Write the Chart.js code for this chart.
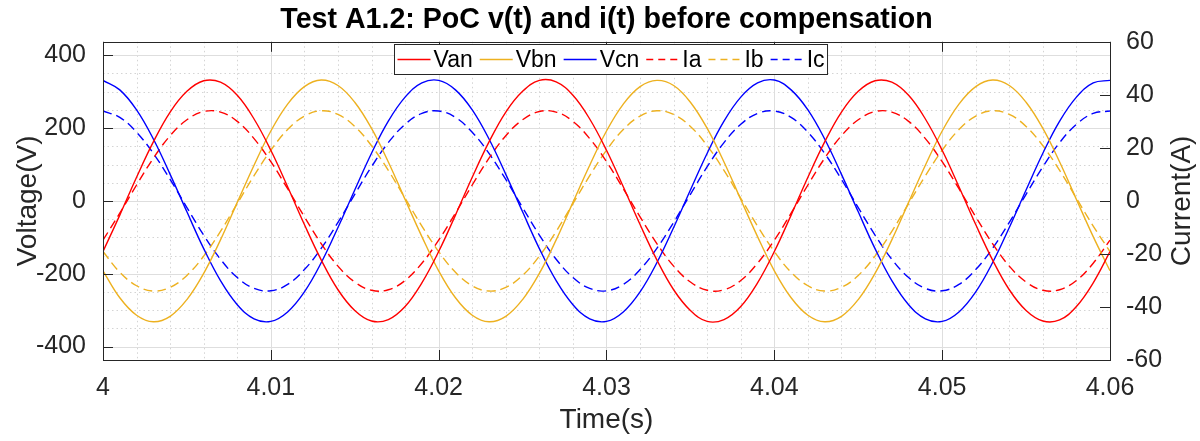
<!DOCTYPE html>
<html>
<head>
<meta charset="utf-8">
<script src="https://cdn.jsdelivr.net/npm/chart.js@4.4.0/dist/chart.umd.min.js"></script>
<style>
    html, body { margin: 0; padding: 0; background: #fff; }
    #wrap { width: 1200px; height: 441px; }
</style>
</head>
<body>
<div id="wrap"><canvas id="chart"></canvas></div>
<script>
// sample times (s), one reading every 1 ms
const time = [
    4.000, 4.001, 4.002, 4.003, 4.004, 4.005, 4.006, 4.007, 4.008, 4.009,
    4.010, 4.011, 4.012, 4.013, 4.014, 4.015, 4.016, 4.017, 4.018, 4.019,
    4.020, 4.021, 4.022, 4.023, 4.024, 4.025, 4.026, 4.027, 4.028, 4.029,
    4.030, 4.031, 4.032, 4.033, 4.034, 4.035, 4.036, 4.037, 4.038, 4.039,
    4.040, 4.041, 4.042, 4.043, 4.044, 4.045, 4.046, 4.047, 4.048, 4.049,
    4.050, 4.051, 4.052, 4.053, 4.054, 4.055, 4.056, 4.057, 4.058, 4.059,
    4.060
];

// phase voltages (V)
const van = [
    -139, -39, 65, 162, 244, 301, 330, 326, 290, 225,
    139, 39, -65, -162, -244, -301, -330, -326, -290, -225,
    -139, -39, 65, 162, 244, 301, 331, 327, 290, 225,
    139, 39, -65, -162, -244, -301, -331, -326, -290, -225,
    -139, -39, 65, 162, 244, 301, 330, 326, 290, 225,
    139, 39, -65, -162, -244, -301, -330, -327, -290, -225,
    -139
];
const vbn = [
    -192, -266, -314, -332, -317, -271, -199, -107, -4, 98,
    192, 266, 314, 332, 317, 271, 199, 107, 4, -98,
    -192, -266, -314, -332, -317, -271, -199, -107, -4, 98,
    192, 266, 314, 331, 317, 271, 199, 107, 4, -98,
    -192, -266, -314, -332, -317, -271, -199, -107, -4, 98,
    192, 266, 314, 332, 317, 271, 199, 107, 4, -98,
    -192
];
const vcn = [
    331, 305, 250, 170, 73, -30, -131, -219, -285, -324,
    -331, -305, -250, -170, -73, 30, 131, 219, 285, 324,
    331, 305, 250, 170, 73, -30, -131, -219, -285, -324,
    -331, -305, -250, -170, -73, 30, 131, 219, 285, 324,
    332, 305, 250, 170, 73, -30, -131, -219, -285, -324,
    -331, -305, -250, -170, -73, 30, 131, 219, 285, 324,
    331
];

// line currents (A)
const ia = [
    -14.8, -4.6, 6.0, 16.1, 24.6, 30.6, 33.7, 33.5, 30.0, 23.5,
    14.8, 4.6, -6.0, -16.1, -24.6, -30.6, -33.7, -33.5, -30.0, -23.5,
    -14.8, -4.6, 6.0, 16.1, 24.6, 30.6, 33.7, 33.5, 30.0, 23.5,
    14.8, 4.6, -6.0, -16.1, -24.6, -30.6, -33.7, -33.5, -30.0, -23.5,
    -14.8, -4.6, 6.0, 16.1, 24.6, 30.6, 33.7, 33.5, 30.0, 23.5,
    14.8, 4.6, -6.0, -16.1, -24.6, -30.6, -33.7, -33.5, -30.0, -23.5,
    -14.8
];
const ib = [
    -19.1, -26.9, -32.0, -34.0, -32.6, -28.1, -20.8, -11.5, -1.0, 9.5,
    19.1, 26.9, 32.0, 34.0, 32.6, 28.1, 20.8, 11.5, 1.0, -9.5,
    -19.1, -26.9, -32.0, -34.0, -32.6, -28.1, -20.8, -11.5, -1.0, 9.5,
    19.1, 26.9, 32.0, 34.0, 32.6, 28.1, 20.8, 11.5, 1.0, -9.5,
    -19.1, -26.9, -32.0, -34.0, -32.6, -28.1, -20.8, -11.5, -1.0, 9.5,
    19.1, 26.9, 32.0, 34.0, 32.6, 28.1, 20.8, 11.5, 1.0, -9.5,
    -19.1
];
const ic = [
    33.9, 31.5, 25.9, 17.9, 8.1, -2.5, -12.9, -22.0, -28.9, -33.0,
    -33.9, -31.5, -25.9, -17.9, -8.1, 2.5, 12.9, 22.0, 28.9, 33.0,
    33.9, 31.5, 25.9, 17.9, 8.1, -2.5, -12.9, -22.0, -28.9, -33.0,
    -33.9, -31.5, -25.9, -17.9, -8.1, 2.5, 12.9, 22.0, 28.9, 33.0,
    33.9, 31.5, 25.9, 17.9, 8.1, -2.5, -12.9, -22.0, -28.9, -33.0,
    -33.9, -31.5, -25.9, -17.9, -8.1, 2.5, 12.9, 22.0, 28.9, 33.0,
    33.9
];

const FONT = '"Liberation Sans", Arial, Helvetica, sans-serif';
const AXIS = "#262626";
const RED = "#ff0000";
const GOLD = "#edb120";
const BLUE = "#0000ff";

const points = (values) => time.map((t, i) => ({ x: t, y: values[i] }));
const onStep = (value, step) => {
    const q = value / step;
    return Math.abs(q - Math.round(q)) < 1e-6;
};

function lineSet(label, values, color, axis, dashed) {
    return {
        label: label,
        data: points(values),
        yAxisID: axis,
        borderColor: color,
        backgroundColor: color,
        borderWidth: 1.4,
        borderDash: dashed ? [9, 5] : [],
        pointRadius: 0,
        tension: 0.4,
        fill: false
    };
}

// MATLAB-like box: grid, inward ticks, legend, right label
const frame = {
    id: "frame",
    beforeDatasetsDraw(chart) {
        const { ctx, chartArea: a, scales } = chart;
        ctx.save();
        ctx.lineWidth = 1;
        // minor dotted grid
        ctx.strokeStyle = "#d4d4d4";
        ctx.setLineDash([1.5, 3]);
        scales.x.ticks.forEach((t) => {
            if (onStep(t.value, 0.01)) return;
            const px = Math.round(scales.x.getPixelForValue(t.value)) + 0.5;
            ctx.beginPath(); ctx.moveTo(px, a.top); ctx.lineTo(px, a.bottom); ctx.stroke();
        });
        scales.y.ticks.forEach((t) => {
            if (onStep(t.value, 200)) return;
            const py = Math.round(scales.y.getPixelForValue(t.value)) + 0.5;
            ctx.beginPath(); ctx.moveTo(a.left, py); ctx.lineTo(a.right, py); ctx.stroke();
        });
        // major solid grid
        ctx.setLineDash([]);
        ctx.strokeStyle = "#dedede";
        scales.x.ticks.forEach((t) => {
            if (!onStep(t.value, 0.01)) return;
            const px = Math.round(scales.x.getPixelForValue(t.value)) + 0.5;
            ctx.beginPath(); ctx.moveTo(px, a.top); ctx.lineTo(px, a.bottom); ctx.stroke();
        });
        scales.y.ticks.forEach((t) => {
            if (!onStep(t.value, 200)) return;
            const py = Math.round(scales.y.getPixelForValue(t.value)) + 0.5;
            ctx.beginPath(); ctx.moveTo(a.left, py); ctx.lineTo(a.right, py); ctx.stroke();
        });
        ctx.restore();
    },
    afterDatasetsDraw(chart) {
        const { ctx, chartArea: a, scales } = chart;
        ctx.save();
        ctx.lineWidth = 1;
        ctx.strokeStyle = AXIS;
        ctx.setLineDash([]);
        const tick = 10;
        scales.x.ticks.forEach((t) => {
            if (!onStep(t.value, 0.01)) return;
            const px = Math.round(scales.x.getPixelForValue(t.value)) + 0.5;
            ctx.beginPath();
            ctx.moveTo(px, a.bottom); ctx.lineTo(px, a.bottom - tick);
            ctx.moveTo(px, a.top); ctx.lineTo(px, a.top + tick);
            ctx.stroke();
        });
        scales.y.ticks.forEach((t) => {
            if (!onStep(t.value, 200)) return;
            const py = Math.round(scales.y.getPixelForValue(t.value)) + 0.5;
            ctx.beginPath(); ctx.moveTo(a.left, py); ctx.lineTo(a.left + tick, py); ctx.stroke();
        });
        scales.y1.ticks.forEach((t) => {
            const py = Math.round(scales.y1.getPixelForValue(t.value)) + 0.5;
            ctx.beginPath(); ctx.moveTo(a.right, py); ctx.lineTo(a.right - tick, py); ctx.stroke();
        });
        ctx.strokeRect(Math.round(a.left) + 0.5, Math.round(a.top) + 0.5,
            Math.round(a.right - a.left), Math.round(a.bottom - a.top));

        // legend inside the top of the axes
        ctx.font = `23px ${FONT}`;
        const sample = 33, textGap = 3, itemGap = 7, pad = 3, boxH = 30;
        const items = chart.data.datasets.map((ds) => ({ ds, w: ctx.measureText(ds.label).width }));
        const total = pad * 2 + items.reduce((s, it) => s + sample + textGap + it.w, 0) + itemGap * (items.length - 1);
        const bx = Math.round((a.left + a.right) / 2 - total / 2 + 4) + 0.5;
        const by = Math.round(a.top + 2) + 0.5;
        ctx.fillStyle = "#fff";
        ctx.fillRect(bx, by, total, boxH);
        ctx.strokeStyle = AXIS;
        ctx.strokeRect(bx, by, total, boxH);
        let x = bx + pad;
        const cy = by + boxH / 2;
        ctx.textBaseline = "middle";
        ctx.textAlign = "left";
        items.forEach((it) => {
            ctx.strokeStyle = it.ds.borderColor;
            ctx.lineWidth = 1.4;
            ctx.setLineDash(it.ds.borderDash.length ? [7, 5] : []);
            ctx.beginPath(); ctx.moveTo(x, cy); ctx.lineTo(x + sample, cy); ctx.stroke();
            ctx.setLineDash([]);
            x += sample + textGap;
            ctx.fillStyle = "#000";
            ctx.fillText(it.ds.label, x, cy + 1);
            x += it.w + itemGap;
        });

        // right axis label, read bottom to top
        ctx.save();
        ctx.translate(1182, (a.top + a.bottom) / 2);
        ctx.rotate(-Math.PI / 2);
        ctx.font = `28px ${FONT}`;
        ctx.fillStyle = AXIS;
        ctx.textAlign = "center";
        ctx.textBaseline = "middle";
        ctx.fillText("Current(A)", 0, 0);
        ctx.restore();
        ctx.restore();
    }
};

const chart = new Chart(document.getElementById("chart"), {
    type: "line",
    data: {
        datasets: [
            lineSet("Van", van, RED, "y", false),
            lineSet("Vbn", vbn, GOLD, "y", false),
            lineSet("Vcn", vcn, BLUE, "y", false),
            lineSet("Ia", ia, RED, "y1", true),
            lineSet("Ib", ib, GOLD, "y1", true),
            lineSet("Ic", ic, BLUE, "y1", true)
        ]
    },
    options: {
        responsive: true,
        maintainAspectRatio: false,
        animation: false,
        devicePixelRatio: 1,
        layout: { padding: 0 },
        plugins: {
            legend: { display: false },
            tooltip: { enabled: false },
            title: {
                display: true,
                fullSize: false,
                text: "Test A1.2: PoC v(t) and i(t) before compensation",
                color: "#000",
                font: { family: FONT, size: 28.6, weight: "bold", lineHeight: 1.2 },
                padding: { top: 3, bottom: 4.5 }
            }
        },
        scales: {
            x: {
                type: "linear",
                min: 4,
                max: 4.06,
                grid: { display: false },
                border: { display: false },
                ticks: {
                    stepSize: 0.002,
                    autoSkip: false,
                    maxRotation: 0,
                    padding: 5,
                    color: AXIS,
                    font: { family: FONT, size: 25 },
                    callback: (v) => onStep(v, 0.01) ? String(parseFloat(v.toFixed(2))) : ""
                },
                title: {
                    display: true,
                    text: "Time(s)",
                    color: AXIS,
                    font: { family: FONT, size: 28, lineHeight: 1.2 },
                    padding: { top: 0, bottom: 4 }
                },
                afterFit: (scale) => { scale.height = 81; }
            },
            y: {
                type: "linear",
                position: "left",
                min: -437,
                max: 437,
                grid: { display: false },
                border: { display: false },
                ticks: {
                    stepSize: 50,
                    includeBounds: false,
                    autoSkip: false,
                    padding: 9,
                    color: AXIS,
                    font: { family: FONT, size: 25 },
                    callback: (v) => onStep(v, 200) ? String(v) : ""
                },
                title: {
                    display: true,
                    text: "Voltage(V)",
                    color: AXIS,
                    font: { family: FONT, size: 28, lineHeight: 1.2 },
                    padding: { top: 11, bottom: 0 }
                },
                afterFit: (scale) => { scale.width = 103; }
            },
            y1: {
                type: "linear",
                position: "right",
                min: -60,
                max: 60,
                grid: { display: false },
                border: { display: false },
                ticks: {
                    stepSize: 20,
                    autoSkip: false,
                    padding: 8,
                    color: AXIS,
                    font: { family: FONT, size: 25 }
                },
                afterFit: (scale) => { scale.width = 90; }
            }
        }
    },
    plugins: [frame]
});
</script>
</body>
</html>
